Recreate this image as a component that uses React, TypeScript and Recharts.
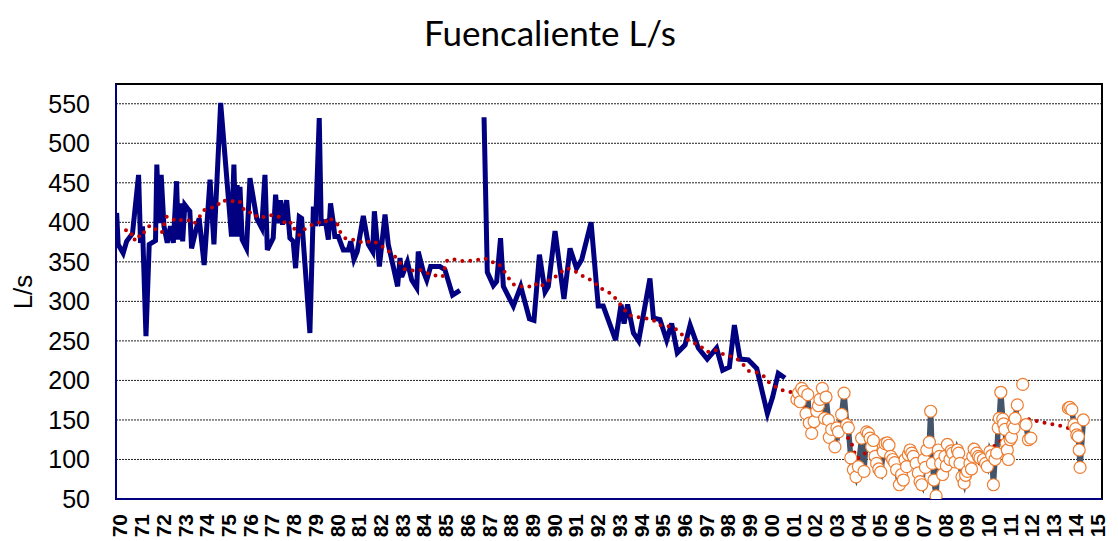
import { LineChart, Line, XAxis, YAxis, CartesianGrid, ReferenceArea } from 'recharts';

// Fuencaliente spring discharge, L/s, by decimal year
const NAVY_YEARS = [
  1969.85, 1969.92, 1970.15, 1970.31, 1970.58, 1970.86, 1970.95, 1971.04, 1971.2, 1971.35,
  1971.64, 1971.7, 1971.8, 1971.9, 1972.03, 1972.18, 1972.33, 1972.46, 1972.61, 1972.69,
  1972.79, 1972.89, 1972.99, 1973.1, 1973.22, 1973.3, 1973.5, 1973.65, 1973.88, 1974.15,
  1974.33, 1974.64, 1975.14, 1975.25, 1975.34, 1975.4, 1975.5, 1975.53, 1975.63, 1975.83,
  1975.99, 1976.3, 1976.53, 1976.68, 1976.79, 1977.06, 1977.17, 1977.29, 1977.4, 1977.49,
  1977.68, 1977.83, 1977.98, 1978.09, 1978.26, 1978.37, 1978.75, 1978.91, 1979.01, 1979.18,
  1979.27, 1979.47, 1979.6, 1979.7, 1979.83, 1979.9, 1980.06, 1980.29, 1980.52, 1980.63,
  1980.78, 1980.93, 1981.21, 1981.44, 1981.64, 1981.72, 1981.95, 1982.21, 1982.36, 1982.59,
  1982.79, 1982.9, 1982.98, 1983.24, 1983.44, 1983.67, 1983.74, 1983.97, 1984.13, 1984.31,
  1984.74, 1984.97, 1985.32, 1985.66, 1986.2, 1986.77, 1986.92, 1987.2, 1987.35, 1987.53,
  1987.66, 1988.12, 1988.46, 1988.86, 1989.07, 1989.32, 1989.58, 1989.73, 1990.04, 1990.45,
  1990.73, 1991.03, 1991.27, 1991.7, 1992.03, 1992.26, 1992.83, 1993.08, 1993.22, 1993.38,
  1993.65, 1993.89, 1994.41, 1994.57, 1994.87, 1995.18, 1995.41, 1995.67, 1996.03, 1996.26,
  1996.64, 1997.05, 1997.48, 1997.76, 1998.07, 1998.3, 1998.56, 1998.94, 1999.33, 1999.82,
  2000.06, 2000.32, 2000.63,
];
const NAVY_FLOW = [
  412, 372, 361, 376, 386, 460, 374, 395, 256, 372,
  377, 473, 399, 460, 395, 374, 395, 374, 452, 378,
  424, 376, 422, 418, 414, 367, 390, 405, 346, 454,
  372, 551, 382, 473, 382, 447, 382, 445, 378, 367,
  456, 405, 393, 460, 365, 380, 435, 399, 428, 397,
  428, 380, 376, 342, 407, 405, 260, 420, 395, 532,
  399, 401, 378, 424, 399, 382, 382, 365, 365, 376,
  353, 363, 408, 372, 363, 414, 344, 410, 372, 344,
  319, 355, 331, 350, 327, 317, 363, 338, 327, 344,
  344, 340, 308, 314, null, 533, 337, 320, 325, 380,
  319, 294, 319, 278, 276, 359, 312, 319, 389, 303,
  367, 342, 353, 400, 294, 294, 251, 296, 272, 296,
  260, 250, 329, 279, 277, 251, 272, 235, 245, 270,
  241, 227, 241, 213, 217, 270, 227, 226, 215, 158,
  179, 209, 203,
];

const SLATE_YEARS = [
  2001.18, 2001.25, 2001.33, 2001.4, 2001.5, 2001.6, 2001.68, 2001.75, 2001.86, 2001.97,
  2002.09, 2002.17, 2002.24, 2002.35, 2002.45, 2002.52, 2002.63, 2002.67, 2002.78, 2002.93,
  2003.02, 2003.09, 2003.24, 2003.35, 2003.47, 2003.55, 2003.66, 2003.78, 2003.9, 2004.01,
  2004.16, 2004.27, 2004.39, 2004.47, 2004.55, 2004.62, 2004.7, 2004.78, 2004.85, 2004.95,
  2005.04, 2005.16, 2005.24, 2005.34, 2005.42, 2005.5, 2005.59, 2005.68, 2005.77, 2005.9,
  2006.0, 2006.08, 2006.16, 2006.23, 2006.31, 2006.39, 2006.47, 2006.54, 2006.67, 2006.77,
  2006.85, 2006.93, 2007.03, 2007.1, 2007.16, 2007.28, 2007.34, 2007.42, 2007.49, 2007.59,
  2007.69, 2007.75, 2007.8, 2007.89, 2008.0, 2008.06, 2008.11, 2008.23, 2008.29, 2008.35,
  2008.46, 2008.57, 2008.63, 2008.69, 2008.78, 2008.88, 2008.95, 2009.03, 2009.15, 2009.22,
  2009.28, 2009.34, 2009.46, 2009.54, 2009.61, 2009.77, 2009.87, 2009.95, 2010.07, 2010.15,
  2010.23, 2010.3, 2010.38, 2010.45, 2010.5, 2010.57, 2010.66, 2010.7, 2010.76, 2010.82,
  2010.87, 2010.92, 2011.0, 2011.06, 2011.12, 2011.18, 2011.23, 2011.33, 2011.45, 2011.58,
  2011.65, 2011.73, 2011.84, 2011.95, 2012.5, 2013.68, 2013.75, 2013.84, 2013.94, 2014.02,
  2014.07, 2014.14, 2014.18, 2014.22, 2014.37,
];
const SLATE_FLOW = [
  176, 184, 173, 190, 186, 158, 182, 146, 133, 148,
  161, 168, 176, 190, 152, 179, 150, 128, 138, 116,
  140, 135, 157, 184, 144, 140, 102, 87, 78, 91,
  127, 85, 135, 133, 127, 116, 124, 104, 95, 88,
  84, 110, 120, 121, 118, 104, 100, 96, 87, 68,
  81, 74, 100, 91, 106, 112, 108, 104, 95, 83,
  72, 68, 100, 90, 112, 122, 161, 95, 74, 54,
  112, 104, 95, 81, 104, 92, 119, 100, 111, 108,
  97, 112, 108, 95, 78, 70, 80, 85, 95, 88,
  104, 113, 108, 104, 102, 100, 95, 91, 110, 105,
  68, 100, 108, 140, 152, 185, 151, 145, 138, 120,
  112, 100, 125, 128, 144, 140, 152, 169, null, 195,
  null, 144, 125, 127, null, 165, 166, 163, 144, 139,
  131, 129, 112, 90, 150,
];

// moving-average trend (red dotted)
const TREND_YEARS = [
  1970.28, 1970.45, 1970.61, 1970.69, 1970.84, 1970.97, 1971.15, 1971.38, 1971.52, 1971.66,
  1971.8, 1971.93, 1972.03, 1972.15, 1972.3, 1972.49, 1972.64, 1972.8, 1972.95, 1973.1,
  1973.22, 1973.41, 1973.65, 1973.84, 1974.15, 1974.45, 1974.68, 1975.07, 1975.4, 1975.56,
  1975.71, 1975.88, 1976.11, 1976.34, 1976.68, 1976.88, 1977.22, 1977.49, 1977.65, 1977.91,
  1978.06, 1978.26, 1978.49, 1978.78, 1979.12, 1979.44, 1979.6, 1979.77, 1980.01, 1980.16,
  1980.38, 1980.72, 1980.95, 1981.29, 1981.62, 1981.93, 1982.21, 1982.48, 1982.74, 1982.9,
  1983.08, 1983.44, 1983.82, 1984.13, 1984.49, 1984.86, 1985.05, 1985.28, 1985.63, 1986.01,
  1986.4, 1986.77, 1987.1, 1987.43, 1987.66, 1987.87, 1988.09, 1988.42, 1988.81, 1989.09,
  1989.35, 1989.65, 1989.96, 1990.27, 1990.54, 1990.88, 1991.19, 1991.53, 1991.83, 1992.08,
  1992.45, 1992.72, 1992.97, 1993.19, 1993.41, 1993.8, 1994.18, 1994.57, 1994.87, 1995.21,
  1995.56, 1995.84, 1996.13, 1996.46, 1996.79, 1997.05, 1997.38, 1997.71, 1998.1, 1998.44,
  1998.71, 1998.97, 1999.36, 1999.63, 1999.91, 2000.25, 2000.56, 2000.94, 2001.25, 2001.48,
  2001.6, 2001.91, 2002.24, 2002.55, 2002.78, 2002.98, 2003.29, 2003.47, 2003.7, 2003.81,
  2003.96, 2004.24, 2004.52, 2004.82, 2005.16, 2005.47, 2005.77, 2006.0, 2006.34, 2006.67,
  2006.93, 2007.16, 2007.36, 2007.65, 2007.92, 2008.16, 2008.39, 2008.62, 2008.92, 2009.28,
  2009.61, 2009.95, 2010.26, 2010.53, 2010.76, 2010.92, 2011.15, 2011.43, 2011.69, 2011.92,
  2012.3, 2012.68, 2013.02, 2013.42, 2013.73, 2014.04,
];
const TREND_FLOW = [
  390, 384, 386, 377, 383, 381, 389, 396, 392, 391,
  388, 387, 397, 407, 407, 403, 401, 403, 404, 403,
  402, 398, 406, 415, 418, 420, 428, 426, 428, 425,
  416, 412, 413, 406, 407, 409, 409, 403, 397, 400,
  390, 384, 391, 396, 400, 399, 406, 403, 398, 387,
  380, 378, 376, 374, 377, 372, 367, 361, 355, 349,
  341, 339, 340, 336, 333, 331, 351, 354, 351, 351,
  352, 355, 350, 348, 340, 331, 322, 319, 318, 323,
  318, 325, 329, 336, 342, 340, 334, 329, 325, 317,
  313, 307, 299, 291, 283, 280, 279, 276, 270, 269,
  266, 259, 252, 247, 242, 236, 239, 234, 231, 227,
  220, 212, 210, 206, 197, 191, 187, 185, 182, 173,
  164, 158, 161, 155, 149, 144, 139, 130, 120, 110,
  101, 106, 112, 108, 106, 103, 96, 91, 92, 91,
  97, 98, 98, 96, 92, 97, 101, 96, 93, 92,
  95, 100, 117, 122, 130, 139, 137, 145, 151, 151,
  148, 146, 144, 142, 139, 135,
];

const YEAR_TICKS = [
  1970, 1971, 1972, 1973, 1974, 1975, 1976, 1977, 1978, 1979, 1980, 1981, 1982, 1983, 1984,
  1985, 1986, 1987, 1988, 1989, 1990, 1991, 1992, 1993, 1994, 1995, 1996, 1997, 1998, 1999,
  2000, 2001, 2002, 2003, 2004, 2005, 2006, 2007, 2008, 2009, 2010, 2011, 2012, 2013, 2014, 2015,
];
const FLOW_TICKS = [50, 100, 150, 200, 250, 300, 350, 400, 450, 500, 550];

const X_MIN = 1969.82;
const X_MAX = 2015.23;
const Y_MIN = 50;
const Y_MAX = 575;

const pts = (years: number[], vals: (number | null)[]) => years.map((x, i) => ({ x, v: vals[i] }));
const navyData = pts(NAVY_YEARS, NAVY_FLOW);
const slateData = pts(SLATE_YEARS, SLATE_FLOW);
const trendData = pts(TREND_YEARS, TREND_FLOW);

const FONT = 'Liberation Sans, Arial, sans-serif';

function YearTick(props: any) {
  const { x, y, payload } = props;
  const ty = y + 13;
  return (
    <text
      x={x}
      y={ty}
      transform={`rotate(-90, ${x}, ${ty})`}
      textAnchor="end"
      dominantBaseline="central"
      style={{ fontFamily: FONT, fontWeight: 700, fontSize: 21 }}
      fill="#000"
    >
      {String(payload.value).slice(2)}
    </text>
  );
}

function FlowTick(props: any) {
  const { y, payload } = props;
  return (
    <text
      x={90}
      y={y}
      textAnchor="end"
      dominantBaseline="central"
      style={{ fontFamily: FONT, fontSize: 25 }}
      fill="#000"
    >
      {payload.value}
    </text>
  );
}

export default function App() {
  return (
    <div style={{ position: 'relative', width: 1118, height: 541, background: '#fff' }}>
      <style>{'body{margin:0}'}</style>
      <div style={{ position: 'absolute', left: 0, width: 1100, top: 11, textAlign: 'center', fontFamily: 'Lato, sans-serif', fontSize: 35, color: '#000' }}>
        Fuencaliente L/s
      </div>
      <div style={{ position: 'absolute', left: 23, top: 292, transform: 'translate(-50%, -50%) rotate(-90deg)', fontFamily: FONT, fontSize: 26, color: '#000' }}>
        L/s
      </div>
      <LineChart width={1118} height={541} margin={{ top: 84, right: 16, bottom: 0, left: 56 }}>
        <CartesianGrid vertical={false} stroke="#222" strokeDasharray="2 1" strokeWidth={1} />
        <XAxis
          type="number"
          dataKey="x"
          domain={[X_MIN, X_MAX]}
          ticks={YEAR_TICKS}
          interval={0}
          allowDataOverflow
          height={42}
          tickLine={false}
          tickSize={0}
          axisLine={{ stroke: '#000080', strokeWidth: 2 }}
          tick={<YearTick />}
        />
        <YAxis
          type="number"
          domain={[Y_MIN, Y_MAX]}
          ticks={FLOW_TICKS}
          allowDataOverflow
          width={60}
          tickLine={false}
          tickSize={0}
          axisLine={{ stroke: '#000080', strokeWidth: 2 }}
          tick={<FlowTick />}
        />
        <ReferenceArea x1={X_MIN} x2={X_MAX} y1={Y_MIN} y2={Y_MAX} fill="none" stroke="#000" strokeWidth={2} ifOverflow="visible" />
        <Line
          data={navyData}
          dataKey="v"
          type="linear"
          stroke="#000080"
          strokeWidth={5}
          dot={false}
          isAnimationActive={false}
        />
        <Line
          data={slateData}
          dataKey="v"
          type="linear"
          stroke="#44546A"
          strokeWidth={5.5}
          dot={{ r: 6, fill: '#fff', stroke: '#ED7D31', strokeWidth: 1.2 }}
          isAnimationActive={false}
        />
        <Line
          data={trendData}
          dataKey="v"
          type="linear"
          stroke="#C00000"
          strokeWidth={4}
          strokeDasharray="0 8"
          strokeLinecap="round"
          dot={false}
          isAnimationActive={false}
        />
      </LineChart>
    </div>
  );
}
